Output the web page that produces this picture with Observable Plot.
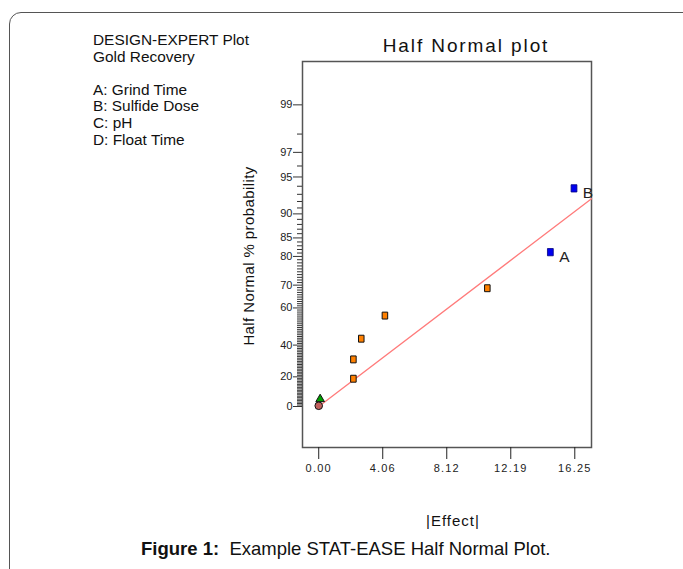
<!DOCTYPE html>
<html>
<head>
<meta charset="utf-8">
<script src="https://cdn.jsdelivr.net/npm/d3@7"></script>
<script src="https://cdn.jsdelivr.net/npm/@observablehq/plot@0.6"></script>
<style>
  html, body { margin: 0; padding: 0; background: #fff; }
  body { width: 683px; height: 569px; overflow: hidden; position: relative; font-family: "Liberation Sans", Arial, sans-serif; color: #111; }
  #box { position: absolute; left: 9px; top: 12px; width: 700px; height: 620px; border: 1.5px solid #555; border-radius: 12px; box-sizing: border-box; }
  #chart { position: absolute; left: 0; top: 0; }
  .t { position: absolute; white-space: pre; }
  #info { left: 93px; top: 32px; font-size: 15.4px; line-height: 16.6px; color: #111; }
  #title { left: 466px; top: 46px; transform: translate(-50%, -50%); font-size: 19px; letter-spacing: 1.9px; color: #111; }
  #ylab { left: 248px; top: 256px; transform: translate(-50%, -50%) rotate(-90deg); font-size: 15px; letter-spacing: 0.4px; color: #111; }
  #xlab { left: 453px; top: 520px; transform: translate(-50%, -50%); font-size: 15px; letter-spacing: 1px; color: #111; }
  #caption { left: 141px; top: 549px; transform: translate(0, -50%); font-size: 18.5px; color: #111; }
</style>
</head>
<body>
<div id="box"></div>
<div id="chart"></div>
<div class="t" id="info">DESIGN-EXPERT Plot
Gold Recovery

A: Grind Time
B: Sulfide Dose
C: pH
D: Float Time</div>
<div class="t" id="title">Half Normal plot</div>
<div class="t" id="ylab">Half Normal % probability</div>
<div class="t" id="xlab">|Effect|</div>
<div class="t" id="caption"><b>Figure 1:</b>&nbsp; Example STAT-EASE Half Normal Plot.</div>
<script>
// ---- data ----
const effectX   = [0.0, 0.09, 2.2, 2.2, 2.7, 4.2, 10.7, 14.7, 16.2];
const probPct   = [0.5, 5.0, 18.75, 31.25, 43.75, 56.25, 68.75, 81.25, 93.75];
const pointKind = ["circle", "triangle", "orange", "orange", "orange", "orange", "orange", "blue", "blue"];
const pointName = ["", "", "", "", "", "", "", "A", "B"];

const fitX = [0.25, 17.31];
const fitP = [2.0, 92.4];

const yMajorTicks = [0, 20, 40, 60, 70, 80, 85, 90, 95, 97, 99];
const xTickValues = [0, 4.0625, 8.125, 12.1875, 16.25];
const xTickLabels = ["0.00", "4.06", "8.12", "12.19", "16.25"];

// ---- half-normal probability transform ----
function normInv(p) {
  const a = [-3.969683028665376e+01, 2.209460984245205e+02, -2.759285104469687e+02, 1.383577518672690e+02, -3.066479806614716e+01, 2.506628277459239e+00];
  const b = [-5.447609879822406e+01, 1.615858368580409e+02, -1.556989798598866e+02, 6.680131188771972e+01, -1.328068155288572e+01];
  const c = [-7.784894002430293e-03, -3.223964580411365e-01, -2.400758277161838e+00, -2.549732539343734e+00, 4.374664141464968e+00, 2.938163982698783e+00];
  const d = [7.784695709041462e-03, 3.224671290700398e-01, 2.445134137142996e+00, 3.754408661907416e+00];
  const pl = 0.02425;
  if (p < pl) { const q = Math.sqrt(-2 * Math.log(p)); return (((((c[0]*q+c[1])*q+c[2])*q+c[3])*q+c[4])*q+c[5]) / ((((d[0]*q+d[1])*q+d[2])*q+d[3])*q+1); }
  if (p > 1 - pl) { const q = Math.sqrt(-2 * Math.log(1 - p)); return -(((((c[0]*q+c[1])*q+c[2])*q+c[3])*q+c[4])*q+c[5]) / ((((d[0]*q+d[1])*q+d[2])*q+d[3])*q+1); }
  const q = p - 0.5, r = q * q;
  return (((((a[0]*r+a[1])*r+a[2])*r+a[3])*r+a[4])*r+a[5])*q / (((((b[0]*r+b[1])*r+b[2])*r+b[3])*r+b[4])*r+1);
}
const halfZ = pct => normInv(0.5 + pct / 200);

const points = effectX.map((x, i) => ({x, z: halfZ(probPct[i]), kind: pointKind[i], name: pointName[i]}));
const fit = fitX.map((x, i) => ({x, z: halfZ(fitP[i])}));
const minorTicks = d3.range(1, 99).filter(v => !yMajorTicks.includes(v)).map(halfZ);
const majorTicks = yMajorTicks.map(halfZ);
const majorLabel = new Map(majorTicks.map((z, i) => [z, String(yMajorTicks[i])]));
const xLabel = new Map(xTickValues.map((v, i) => [v, xTickLabels[i]]));

const rectSymbol = {
  draw(ctx, size) {
    const s = Math.sqrt(size), w = s * 0.8, h = s;
    ctx.moveTo(-w / 2, -h / 2); ctx.lineTo(w / 2, -h / 2); ctx.lineTo(w / 2, h / 2); ctx.lineTo(-w / 2, h / 2); ctx.closePath();
  }
};

const chart = Plot.plot({
  width: 683,
  height: 569,
  marginLeft: 302,
  marginRight: 92,
  marginTop: 61,
  marginBottom: 122,
  style: {fontFamily: "'Liberation Sans', Arial, sans-serif", fontSize: "11px", color: "#222", background: "transparent"},
  x: {domain: [-1.03, 17.31]},
  y: {domain: [-0.35, 2.946]},
  marks: [
    Plot.frame({stroke: "#555", strokeWidth: 1.5}),
    Plot.axisY(minorTicks, {tickSize: 5, tickFormat: () => "", label: null, stroke: "#333"}),
    Plot.axisY(majorTicks, {tickSize: 9, tickPadding: 1, tickFormat: z => majorLabel.get(z), label: null, stroke: "#333", fill: "#222"}),
    Plot.axisX(xTickValues, {tickSize: 12, tickPadding: 5, tickFormat: v => xLabel.get(v), label: null, stroke: "#222", fill: "#222"}),
    Plot.line(fit, {x: "x", y: "z", stroke: "#ff7b7b", strokeWidth: 1.3}),
    Plot.dot(points.filter(d => d.kind === "circle"), {x: "x", y: "z", r: 3.8, fill: "#c0605c", stroke: "#111", strokeWidth: 1}),
    Plot.dot(points.filter(d => d.kind === "triangle"), {x: "x", y: "z", symbol: "triangle", r: 3.2, fill: "#00a000", stroke: "#111", strokeWidth: 1}),
    Plot.dot(points.filter(d => d.kind === "orange"), {x: "x", y: "z", symbol: rectSymbol, r: 3.9, fill: "#ff8000", stroke: "#111", strokeWidth: 1}),
    Plot.dot(points.filter(d => d.kind === "blue"), {x: "x", y: "z", symbol: rectSymbol, r: 4.1, fill: "#0000f0", stroke: "#000080", strokeWidth: 0.8}),
    Plot.text(points.filter(d => d.name), {x: "x", y: "z", text: "name", dx: 14, dy: 5, fontSize: 15.5, fill: "#222"})
  ]
});
document.getElementById("chart").appendChild(chart);
d3.select(chart).selectAll('g[aria-label="x-axis tick label"] text').style("letter-spacing", "1.2px");
</script>
</body>
</html>
